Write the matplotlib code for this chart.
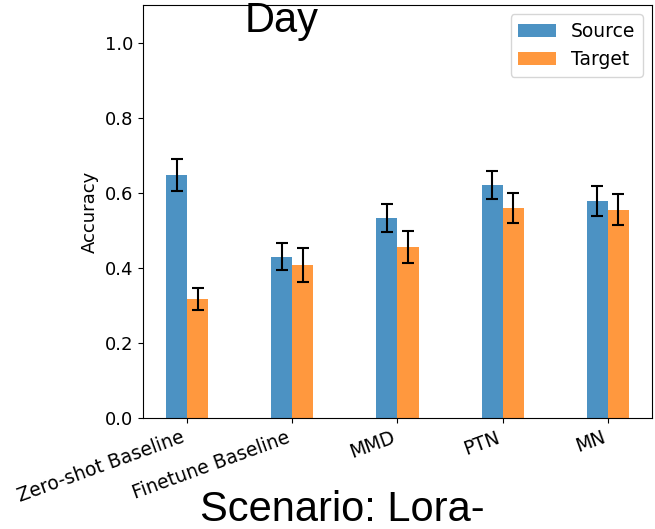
import numpy as np
import matplotlib
matplotlib.use('Agg')
import matplotlib.pyplot as plt

# Data
methods = ['Zero-shot Baseline', 'Finetune Baseline', 'MMD', 'PTN', 'MN']
source_acc = [0.648, 0.430, 0.532, 0.621, 0.578]
source_err = [0.043, 0.037, 0.037, 0.037, 0.040]
target_acc = [0.318, 0.408, 0.455, 0.559, 0.555]
target_err = [0.029, 0.045, 0.042, 0.040, 0.041]

plt.rcParams['font.size'] = 13

fig = plt.figure(figsize=(6.55, 5.29), dpi=100)
ax = fig.add_axes([0.2183, 0.2098, 0.7771, 0.7807])

x = np.arange(len(methods))
width = 0.2
err_style = {'elinewidth': 1.5, 'capthick': 1.5, 'ecolor': 'black'}
ax.bar(x - width / 2, source_acc, width, yerr=source_err, label='Source',
       color='tab:blue', alpha=0.8, capsize=4.2, error_kw=err_style)
ax.bar(x + width / 2, target_acc, width, yerr=target_err, label='Target',
       color='tab:orange', alpha=0.8, capsize=4.2, error_kw=err_style)

ax.set_xticks(x)
ax.set_xticklabels(methods, rotation=20, ha='right', fontsize=13.5)
ax.set_ylim(0, 1.1)
ax.set_ylabel('Accuracy')
ax.legend(loc='upper right', fontsize=13.5)

fig.text(0.43, 0.96, 'Day', fontsize=30, family='Liberation Sans',
         ha='center', va='center')
fig.text(0.523, 0.035, 'Scenario: Lora-', fontsize=30,
         family='Liberation Sans', ha='center', va='center')

fig.savefig('out.png', dpi=100)
